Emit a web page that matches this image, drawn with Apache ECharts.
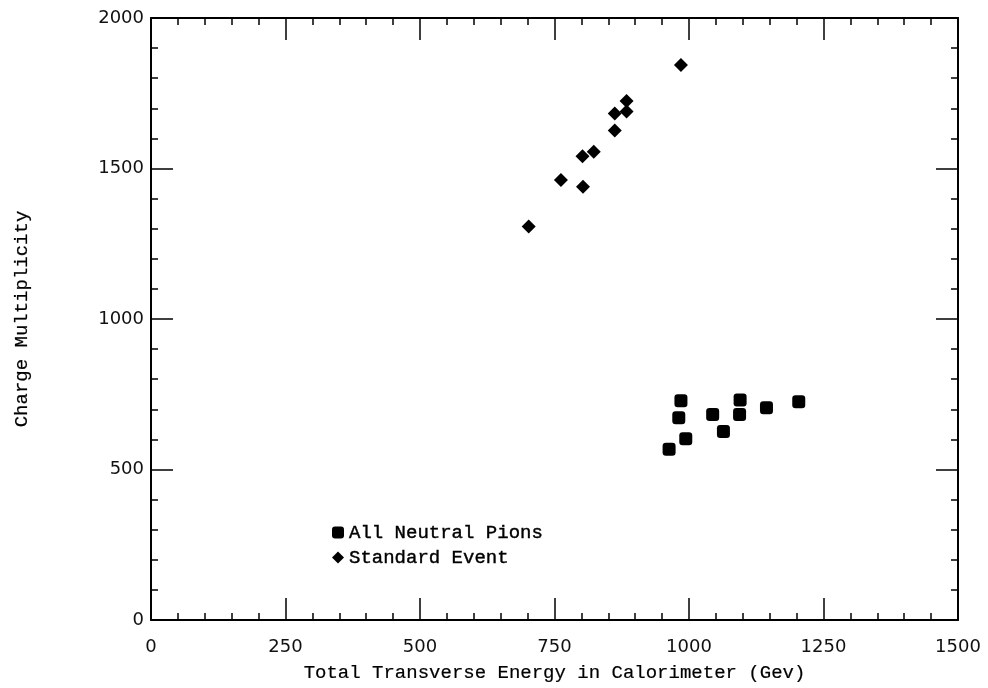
<!DOCTYPE html>
<html>
<head>
<meta charset="utf-8">
<script src="https://cdn.jsdelivr.net/npm/echarts@6/dist/echarts.min.js"></script>
<style>html,body{margin:0;padding:0;background:#fff;}#c{width:988px;height:688px;}</style>
</head>
<body>
<div id="c"></div>
<script>
const xTicks = [0, 250, 500, 750, 1000, 1250, 1500];
const yTicks = [0, 500, 1000, 1500, 2000];
const seriesNames = ['All Neutral Pions', 'Standard Event'];
const pionsX = [963, 985, 981, 994, 1044, 1064, 1095, 1094, 1144, 1204];
const pionsY = [567, 728, 672, 602, 683, 626, 731, 683, 705, 725];
const stdX = [985, 884, 884, 862, 862, 823, 802, 762, 803, 702];
const stdY = [1844, 1724, 1689, 1683, 1626, 1556, 1541, 1462, 1439, 1307];

const chart = echarts.init(document.getElementById('c'), null, {renderer: 'canvas'});
const mono = '"Liberation Mono", "DejaVu Sans Mono", monospace';
const sans = '"DejaVu Sans", sans-serif';

function axisCommon(isX, pos, showLabel, name) {
  return {
    type: 'value',
    position: pos,
    min: isX ? xTicks[0] : yTicks[0],
    max: isX ? xTicks[xTicks.length - 1] : yTicks[yTicks.length - 1],
    interval: isX ? xTicks[1] - xTicks[0] : yTicks[1] - yTicks[0],
    name: name || '',
    nameLocation: 'middle',
    nameGap: isX ? 43 : 120,
    nameTextStyle: {fontFamily: mono, fontSize: 19, color: '#000', textBorderColor: '#000', textBorderWidth: 0.2},
    axisLine: {show: true, onZero: false, lineStyle: {color: '#000', width: 2}},
    axisTick: {show: true, inside: true, length: 22, lineStyle: {color: '#000', width: 1.5}},
    minorTick: {show: true, splitNumber: 5, length: 7, lineStyle: {color: '#000', width: 1.5}},
    splitLine: {show: false},
    minorSplitLine: {show: false},
    axisLabel: {
      show: showLabel,
      fontFamily: sans,
      fontSize: 18,
      color: '#111',
      margin: isX ? 18 : 7,
      formatter: function (v) { return String(v); }
    }
  };
}

const option = {
  backgroundColor: '#fff',
  animation: false,
  grid: {left: 151, right: 30, top: 18, bottom: 68, containLabel: false, outerBoundsMode: 'none'},
  xAxis: [
    axisCommon(true, 'bottom', true, 'Total Transverse Energy in Calorimeter (Gev)'),
    axisCommon(true, 'top', false, '')
  ],
  yAxis: [
    axisCommon(false, 'left', true, 'Charge Multiplicity'),
    axisCommon(false, 'right', false, '')
  ],
  legend: {
    orient: 'vertical',
    left: 327,
    top: 517,
    itemWidth: 12,
    itemHeight: 12,
    itemGap: 4,
    textStyle: {fontFamily: mono, fontSize: 19, color: '#000', lineHeight: 21, padding: [0, 0, 0, 0], textBorderColor: '#000', textBorderWidth: 0.4},
    data: [
      {name: seriesNames[0], icon: 'roundRect'},
      {name: seriesNames[1], icon: 'diamond'}
    ]
  },
  series: [
    {
      name: seriesNames[0],
      type: 'scatter',
      symbol: 'roundRect',
      symbolSize: 13,
      itemStyle: {color: '#000', opacity: 1},
      data: pionsX.map((x, i) => [x, pionsY[i]])
    },
    {
      name: seriesNames[1],
      type: 'scatter',
      symbol: 'diamond',
      symbolSize: [14, 14],
      itemStyle: {color: '#000', opacity: 1},
      data: stdX.map((x, i) => [x, stdY[i]])
    }
  ]
};
chart.setOption(option);
</script>
</body>
</html>
